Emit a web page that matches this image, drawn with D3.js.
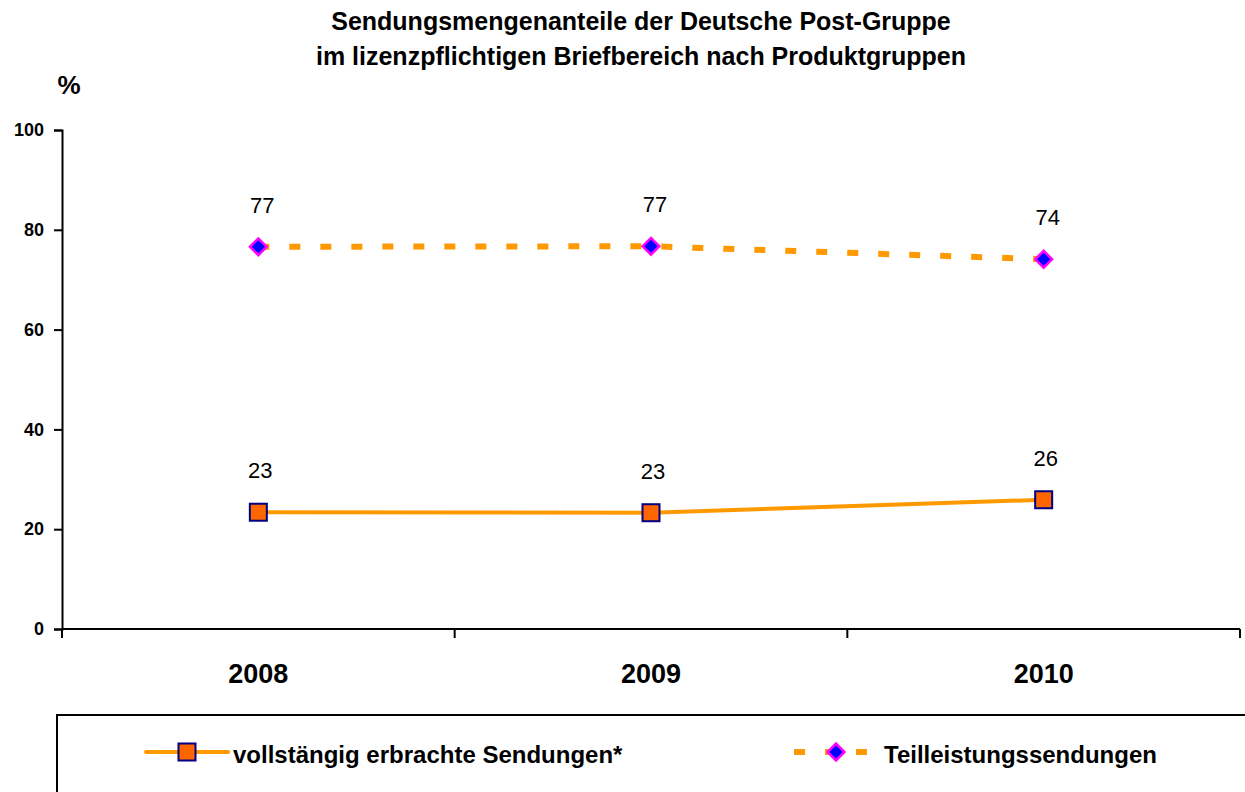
<!DOCTYPE html>
<html>
<head>
<meta charset="utf-8">
<script src="https://cdn.jsdelivr.net/npm/d3@7"></script>
<style>
  body { margin: 0; background: #fff; }
  text { font-family: Arial, "Liberation Sans", sans-serif; }
</style>
</head>
<body>
<svg id="chart" width="1245" height="792"></svg>
<script>
// data
let years = ["2008", "2009", "2010"];
let fullService = [23.4, 23.3, 25.9];
let partService = [76.6, 76.7, 74.1];
let fullLabels = ["23", "23", "26"];
let partLabels = ["77", "77", "74"];
let yTicks = [0, 20, 40, 60, 80, 100];

let svg = d3.select("#chart");

let x = d3.scaleBand()
    .domain(years)
    .range([62, 1240]);

let y = d3.scaleLinear()
    .domain([0, 100])
    .range([629, 130]);

// title
svg.append("text")
    .attr("x", 641).attr("y", 30)
    .attr("text-anchor", "middle")
    .style("font-size", "25px").style("font-weight", "bold")
    .text("Sendungsmengenanteile der Deutsche Post-Gruppe");
svg.append("text")
    .attr("x", 641).attr("y", 65)
    .attr("text-anchor", "middle")
    .style("font-size", "25px").style("font-weight", "bold")
    .text("im lizenzpflichtigen Briefbereich nach Produktgruppen");

svg.append("text")
    .attr("x", 69).attr("y", 94)
    .attr("text-anchor", "middle")
    .style("font-size", "26px").style("font-weight", "bold")
    .text("%");

// y axis
let yAxis = svg.append("g")
    .attr("transform", "translate(62,0)")
    .call(d3.axisLeft(y).tickValues(yTicks).tickSize(8).tickPadding(10));
yAxis.select(".domain").attr("stroke", "#000").attr("stroke-width", 2);
yAxis.selectAll(".tick line").attr("stroke", "#000").attr("stroke-width", 2);
yAxis.selectAll(".tick text")
    .style("font-size", "18px").style("font-weight", "bold")
    .attr("fill", "#000")
    .attr("font-family", "Arial, 'Liberation Sans', sans-serif");

// x axis: ticks on category boundaries
let boundaries = years.map(function(d) { return x(d); }).concat([x.range()[1]]);
svg.append("line")
    .attr("x1", 62).attr("x2", 1240)
    .attr("y1", y(0)).attr("y2", y(0))
    .attr("stroke", "#000").attr("stroke-width", 2);
svg.selectAll(".xtick").data(boundaries)
    .enter().append("line")
    .attr("class", "xtick")
    .attr("x1", function(d) { return d; })
    .attr("x2", function(d) { return d; })
    .attr("y1", y(0)).attr("y2", y(0) + 9)
    .attr("stroke", "#000").attr("stroke-width", 2);
svg.selectAll(".xlabel").data(years)
    .enter().append("text")
    .attr("class", "xlabel")
    .attr("x", function(d) { return x(d) + x.bandwidth() / 2; })
    .attr("y", 683)
    .attr("text-anchor", "middle")
    .style("font-size", "27px").style("font-weight", "bold")
    .text(function(d) { return d; });

let cx = function(d, i) { return x(years[i]) + x.bandwidth() / 2; };

let line = d3.line()
    .x(function(d, i) { return cx(d, i); })
    .y(function(d) { return y(d); });

// dashed series
svg.append("path")
    .datum(partService)
    .attr("d", line)
    .attr("fill", "none")
    .attr("stroke", "#FF9900")
    .attr("stroke-width", 6)
    .attr("stroke-dasharray", "11,20");

// solid series
svg.append("path")
    .datum(fullService)
    .attr("d", line)
    .attr("fill", "none")
    .attr("stroke", "#FF9900")
    .attr("stroke-width", 4);

let diamond = d3.symbol().type(d3.symbolSquare).size(140);

svg.selectAll(".pmark").data(partService)
    .enter().append("path")
    .attr("class", "pmark")
    .attr("d", diamond)
    .attr("transform", function(d, i) { return "translate(" + cx(d, i) + "," + y(d) + ") rotate(45)"; })
    .attr("fill", "#0000FF")
    .attr("stroke", "#FF00FF")
    .attr("stroke-width", 2.5);

svg.selectAll(".fmark").data(fullService)
    .enter().append("rect")
    .attr("class", "fmark")
    .attr("x", function(d, i) { return cx(d, i) - 8.5; })
    .attr("y", function(d) { return y(d) - 8.5; })
    .attr("width", 17).attr("height", 17)
    .attr("fill", "#FF6600")
    .attr("stroke", "#000080")
    .attr("stroke-width", 2);

// data labels
svg.selectAll(".plabel").data(partService)
    .enter().append("text")
    .attr("class", "plabel")
    .attr("x", function(d, i) { return cx(d, i) + 4; })
    .attr("y", function(d) { return y(d) - 34; })
    .attr("text-anchor", "middle")
    .style("font-size", "22px")
    .text(function(d, i) { return partLabels[i]; });

svg.selectAll(".flabel").data(fullService)
    .enter().append("text")
    .attr("class", "flabel")
    .attr("x", function(d, i) { return cx(d, i) + 2; })
    .attr("y", function(d) { return y(d) - 34; })
    .attr("text-anchor", "middle")
    .style("font-size", "22px")
    .text(function(d, i) { return fullLabels[i]; });

// legend
svg.append("rect")
    .attr("x", 57).attr("y", 715)
    .attr("width", 1250).attr("height", 120)
    .attr("fill", "none")
    .attr("stroke", "#000").attr("stroke-width", 2);

let ly = 752;
svg.append("line")
    .attr("x1", 146).attr("x2", 228)
    .attr("y1", ly).attr("y2", ly)
    .attr("stroke", "#FF9900").attr("stroke-width", 4)
    .attr("stroke-linecap", "round");
svg.append("rect")
    .attr("x", 178.5).attr("y", ly - 8.5)
    .attr("width", 17).attr("height", 17)
    .attr("fill", "#FF6600")
    .attr("stroke", "#000080").attr("stroke-width", 2);
svg.append("text")
    .attr("x", 233).attr("y", ly + 11)
    .style("font-size", "24px").style("font-weight", "bold")
    .text("vollstängig erbrachte Sendungen*");

svg.append("line")
    .attr("x1", 794).attr("x2", 868)
    .attr("y1", ly).attr("y2", ly)
    .attr("stroke", "#FF9900").attr("stroke-width", 6)
    .attr("stroke-dasharray", "11,20");
svg.append("path")
    .attr("d", diamond)
    .attr("transform", "translate(836," + ly + ") rotate(45)")
    .attr("fill", "#0000FF")
    .attr("stroke", "#FF00FF")
    .attr("stroke-width", 2.5);
svg.append("text")
    .attr("x", 884).attr("y", ly + 11)
    .style("font-size", "24px").style("font-weight", "bold")
    .text("Teilleistungssendungen");
</script>
</body>
</html>
